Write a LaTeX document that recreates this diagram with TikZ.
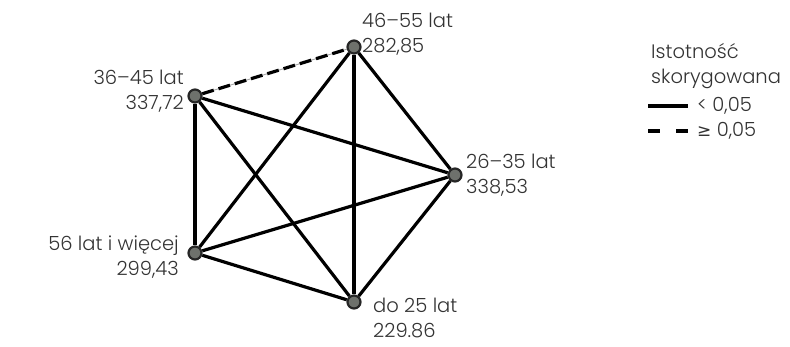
\documentclass[tikz,border=0pt]{standalone}
\usepackage{fontspec}
\setmainfont{Poppins}[UprightFont=* Light]
\newfontfamily\symfont{DejaVu Sans}
\usepackage{xcolor}
\usepackage{tikz}
\definecolor{dotgray}{HTML}{6E716C}
\definecolor{txtgray}{HTML}{333333}

\begin{document}
\begin{tikzpicture}[
  x=1pt, y=-1pt,
  font=\fontsize{19.5}{25}\selectfont, text=txtgray,
  grp/.style={circle, draw=black!85, fill=dotgray, line width=2.2pt, minimum size=13pt, inner sep=0pt},
  lbl/.style={inner sep=0pt},
  sig/.style={line width=3.2pt, draw=black},
  nsig/.style={line width=3.2pt, draw=black, dash pattern=on 12pt off 5pt},
  nsigbg/.style={line width=0.9pt, draw=black!35},
  legdash/.style={line width=3.2pt, draw=black, dash pattern=on 12pt off 16pt}
]
\useasboundingbox (0,0) rectangle (790,346);
\node[grp] (g4655) at (354,47) {};
\node[grp] (g3645) at (195,96) {};
\node[grp] (g2635) at (455,175) {};
\node[grp] (g56) at (195,253) {};
\node[grp] (g25) at (354,302) {};
\node[lbl, anchor=west, align=left] (t4655) at (362,34) {46--55 lat\\282,85};
\node[lbl, anchor=east, align=right] (t3645) at (184,91) {36--45 lat\\337,72};
\node[lbl, anchor=west, align=left] (t2635) at (466,175) {26--35 lat\\338,53};
\node[lbl, anchor=east, align=right] (t56) at (179,257) {56 lat i więcej\\299,43};
\node[lbl, anchor=west, align=left] (t25) at (373,318) {do 25 lat\\229.86};
\draw[nsigbg] (g3645) -- (g4655);
\draw[nsig] (g3645) -- (g4655);
\draw[sig] (g3645) -- (g2635);
\draw[sig] (g3645) -- (g56);
\draw[sig] (g3645) -- (g25);
\draw[sig] (g4655) -- (g2635);
\draw[sig] (g4655) -- (g56);
\draw[sig] (g4655) -- (g25);
\draw[sig] (g2635) -- (g56);
\draw[sig] (g2635) -- (g25);
\draw[sig] (g56) -- (g25);
% legend
\node[lbl, anchor=west, align=left] (legtitle) at (651,66) {Istotność\\skorygowana};
\coordinate (s1) at (648,106);
\coordinate (s2) at (688,106);
\coordinate (d1) at (648,131);
\coordinate (d2) at (688,131);
\draw[line width=3.2pt] (s1) -- (s2);
\draw[legdash] (d1) -- (d2);
\node[lbl, anchor=west] (legsig) at (697,106) {< 0,05};
\node[lbl, anchor=west] (legnsig) at (697,131) {{\symfont\fontsize{17}{26}\selectfont ≥} 0,05};
\end{tikzpicture}
\end{document}
